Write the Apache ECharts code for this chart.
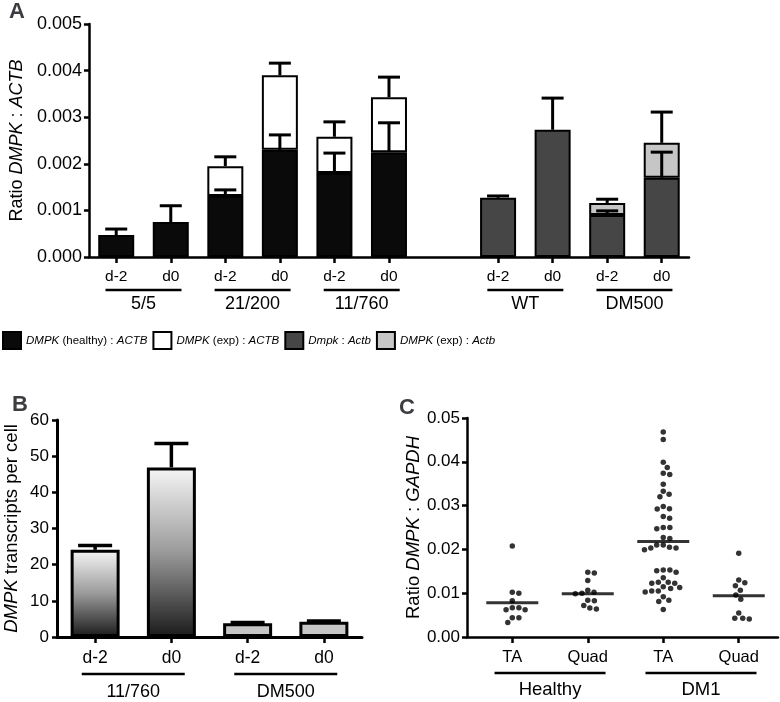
<!DOCTYPE html>
<html><head><meta charset="utf-8">
<script src="https://cdn.jsdelivr.net/npm/echarts@6/dist/echarts.min.js"></script>
<style>html,body{margin:0;padding:0;background:#fff}#c{width:780px;height:702px}</style>
</head><body><div id="c"></div>
<script>
// ---------- Panel A data ----------
const catsA = ['5/5 d-2','5/5 d0','21/200 d-2','21/200 d0','11/760 d-2','11/760 d0','gap','WT d-2','WT d0','DM500 d-2','DM500 d0'];
const groupsA = ['5/5','21/200','11/760','WT','DM500'];
const healthyA    = [0.00047,0.00075,0.00131,0.0023,0.0018,0.00225,'-','-','-','-','-'];
const healthyErrA = [0.00013,0.00035,0.00013,0.00032,0.00043,0.00063,'-','-','-','-','-'];
const expA        = ['-','-',0.00064,0.0016,0.00078,0.00118,'-','-','-','-','-'];
const expErrA     = ['-','-',0.0002,0.00026,0.00032,0.00043,'-','-','-','-','-'];
const mouseA      = ['-','-','-','-','-','-','-',0.00127,0.00273,0.0009,0.0017];
const mouseErrA   = ['-','-','-','-','-','-','-',0.00004,0.00068,0.00009,0.00055];
const expMouseA   = ['-','-','-','-','-','-','-','-','-',0.00026,0.00075];
const expMouseErrA= ['-','-','-','-','-','-','-','-','-',0.00008,0.00066];
const yTicksA = [0,0.001,0.002,0.003,0.004,0.005];
// ---------- Panel B data ----------
const catsB = ['11/760 d-2','11/760 d0','DM500 d-2','DM500 d0'];
const groupsB = ['11/760','DM500'];
const valsB = [24.1,46.9,3.8,4.2];
const errB  = [1.2,6.6,0.2,0.2];
const yTicksB = [0,10,20,30,40,50,60];
// ---------- Panel C data ----------
const catsC = ['Healthy TA','Healthy Quad','DM1 TA','DM1 Quad'];
const groupsC = ['Healthy','DM1'];
const healthyTA = [0.0208,0.0100,0.0102,0.0083,0.0067,0.0062,0.0062,0.0067,0.0044,0.0044,0.0033];
const healthyQuad = [0.0146,0.0148,0.0129,0.0107,0.0102,0.0099,0.0100,0.0084,0.0083,0.0072,0.0066,0.0064];
const dm1TA = [0.0468,0.0451,0.0399,0.0387,0.0371,0.0374,0.0349,0.0333,0.0326,0.0320,0.0293,0.0292,0.0298,
  0.0271,0.0275,0.0250,0.0247,0.0250,0.0227,0.0225,0.0210,0.0205,0.0203,0.0199,0.0203,0.0210,
  0.0151,0.0148,0.0153,0.0153,0.0135,0.0125,0.0123,0.0123,0.0125,0.0113,0.0105,0.0103,0.0105,0.0111,0.0115,
  0.0084,0.0081,0.0092,0.0063];
const dm1Quad = [0.0191,0.0130,0.0124,0.0117,0.0107,0.0096,0.0086,0.0043,0.0041,0.0043,0.0055];
const meansC = [0.0078,0.0099,0.0218,0.0094];
const yTicksC = [0,0.01,0.02,0.03,0.04,0.05];

const FONT = "'Liberation Sans', Arial, Helvetica, sans-serif";

// helpers
function groupCenters(cats, groups){
  return groups.map(g => { const idx = cats.map((c,i)=>c.split(' ')[0]===g?i:-1).filter(i=>i>=0); return idx.reduce((a,b)=>a+b,0)/idx.length; });
}
function errRender(capW, lw){
  return function(params, api){
    const x = api.value(0), y = api.value(1), e = api.value(2);
    const p0 = api.coord([x,y]), p1 = api.coord([x,y+e]);
    return {type:'group', children:[
      {type:'line', shape:{x1:p0[0],y1:p0[1],x2:p1[0],y2:p1[1]}, style:{stroke:'#000',lineWidth:lw}},
      {type:'line', shape:{x1:p1[0]-capW/2,y1:p1[1],x2:p1[0]+capW/2,y2:p1[1]}, style:{stroke:'#000',lineWidth:lw}}
    ]};
  };
}
function swarm(vals, pyPerUnit, d){
  const order = vals.map((v,i)=>i).sort((a,b)=>vals[b]-vals[a]);
  const placed = [], xs = new Array(vals.length);
  for (const i of order){
    const y = vals[i]*pyPerUnit;
    const cands = [0];
    for (const p of placed){ const dy = Math.abs(p.y-y); if (dy<d){ const dx=Math.sqrt(d*d-dy*dy); cands.push(p.x+dx,p.x-dx);} }
    cands.sort((a,b)=>Math.abs(a)-Math.abs(b));
    let ch = 0;
    for (const c of cands){ if (placed.every(p=>(p.x-c)*(p.x-c)+(p.y-y)*(p.y-y) >= d*d-1e-6)){ ch=c; break; } }
    placed.push({x:ch,y}); xs[i]=ch;
  }
  return xs;
}

// Error data for A
const errDataA = [];
for (let i=0;i<catsA.length;i++){
  let base = 0;
  [[healthyA,healthyErrA],[expA,expErrA],[mouseA,mouseErrA],[expMouseA,expMouseErrA]].forEach(([v,e])=>{
    if (v[i] !== '-'){ base += v[i]; errDataA.push([i, base, e[i]]); }
  });
}
const errDataB = valsB.map((v,i)=>[i,v,errB[i]]);

// Panel C layout values
const gridC = {left:467, right:2, top:418, bottom:65};
const xMinC = -0.6, xMaxC = 3.52;
const slotPxC = (780-gridC.left-gridC.right)/(xMaxC-xMinC);
const pyC = (702-gridC.top-gridC.bottom)/0.05;
const groupsDataC = [healthyTA, healthyQuad, dm1TA, dm1Quad];
const scatterC = [];
groupsDataC.forEach((vals,k)=>{ const xs = swarm(vals, pyC, 6.6); vals.forEach((v,i)=>scatterC.push([k + xs[i]/slotPxC, v])); });

function yLine(w){ return {show:true, onZero:false, lineStyle:{color:'#000', width:w}}; }
const axisTickY = {show:true, length:5, lineStyle:{color:'#000', width:2.5}};
function groupLabel(w, l1, l2, fs){
  return {u:{width:w, height:2.5, backgroundColor:'#000', lineHeight:l1}, g:{fontSize:fs, lineHeight:l2, color:'#000', fontFamily:FONT}};
}

const centersA = groupCenters(catsA, groupsA);
const centersB = groupCenters(catsB, groupsB);
const centersC = groupCenters(catsC, groupsC);

const barBorder = {borderColor:'#000', borderWidth:2};
const legendNames = ['DMPK (healthy) : ACTB','DMPK (exp) : ACTB','Dmpk : Actb','DMPK (exp) : Actb'];
const legendRich = {
  'DMPK (healthy) : ACTB':'{i|DMPK} (healthy) : {i|ACTB}',
  'DMPK (exp) : ACTB':'{i|DMPK} (exp) : {i|ACTB}',
  'Dmpk : Actb':'{i|Dmpk} : {i|Actb}',
  'DMPK (exp) : Actb':'{i|DMPK} (exp) : {i|Actb}'
};
const LFS = 11.5;

const option = {
  animation:false,
  textStyle:{fontFamily:FONT, color:'#000'},
  title:[
    {text:'A', left:9, top:1, padding:0, textStyle:{fontSize:22, fontWeight:'bold', fontFamily:FONT}},
    {text:'B', left:12, top:394, padding:0, textStyle:{fontSize:22, fontWeight:'bold', fontFamily:FONT}},
    {text:'C', left:399, top:397, padding:0, textStyle:{fontSize:22, fontWeight:'bold', fontFamily:FONT}}
  ],
  legend:{
    data:legendNames, left:2, top:331, padding:0, itemWidth:18, itemHeight:17, itemGap:5, icon:'rect',
    selectedMode:false,
    formatter:n=>legendRich[n],
    textStyle:{fontFamily:FONT, fontSize:LFS, color:'#000', rich:{i:{fontStyle:'italic', fontFamily:FONT, fontSize:LFS, color:'#000'}}}
  },
  grid:[
    {left:81, right:91, top:24, bottom:445},
    {left:57, right:418, top:420, bottom:65},
    gridC
  ],
  xAxis:[
    {gridIndex:0, type:'category', data:catsA, position:'bottom', boundaryGap:true,
     axisLine:yLine(2.5), axisTick:{show:true, alignWithLabel:true, length:6, interval:(i)=>catsA[i]!=='gap', lineStyle:{color:'#000', width:2.5}},
     axisLabel:{interval:0, margin:12, fontSize:15.5, color:'#000', formatter:v=>v==='gap'?'':v.split(' ')[1]}},
    {gridIndex:0, type:'value', min:-0.5, max:catsA.length-0.5, position:'bottom',
     axisLine:{show:false}, axisTick:{show:false}, splitLine:{show:false},
     axisLabel:{customValues:centersA, margin:28, formatter:v=>'{u|}\n{g|'+groupsA[centersA.indexOf(v)]+'}', rich:groupLabel(76,10,18,18)}},
    {gridIndex:1, type:'category', data:catsB, position:'bottom', boundaryGap:true,
     axisLine:yLine(3), axisTick:{show:true, alignWithLabel:true, length:6, lineStyle:{color:'#000', width:2.5}},
     axisLabel:{interval:0, margin:12, fontSize:17.5, color:'#000', formatter:v=>v.split(' ')[1]}},
    {gridIndex:1, type:'value', min:-0.5, max:catsB.length-0.5, position:'bottom',
     axisLine:{show:false}, axisTick:{show:false}, splitLine:{show:false},
     axisLabel:{customValues:centersB, margin:29, formatter:v=>'{u|}\n{g|'+groupsB[centersB.indexOf(v)]+'}', rich:groupLabel(103,16,20,18)}},
    {gridIndex:2, type:'value', min:xMinC, max:xMaxC, position:'bottom',
     axisLine:yLine(2.5), splitLine:{show:false},
     axisTick:{show:true, customValues:[0,1,2,3], length:6, lineStyle:{color:'#000', width:2.5}},
     axisLabel:{customValues:[0,1,2,3], margin:12, fontSize:16.5, color:'#000', formatter:v=>catsC[Math.round(v)].split(' ')[1]}},
    {gridIndex:2, type:'value', min:xMinC, max:xMaxC, position:'bottom',
     axisLine:{show:false}, axisTick:{show:false}, splitLine:{show:false},
     axisLabel:{customValues:centersC, margin:29, formatter:v=>'{u|}\n{g|'+groupsC[centersC.indexOf(v)]+'}', rich:groupLabel(111,14,20,18.5)}}
  ],
  yAxis:[
    {gridIndex:0, type:'value', min:yTicksA[0], max:yTicksA[yTicksA.length-1], interval:yTicksA[1]-yTicksA[0],
     axisLine:yLine(2.5), axisTick:axisTickY, splitLine:{show:false},
     axisLabel:{fontSize:18, margin:7, color:'#000', formatter:v=>v.toFixed(3)},
     name:'Ratio {i|DMPK} : {i|ACTB}', nameLocation:'middle', nameGap:57,
     nameTextStyle:{fontSize:18, color:'#000', fontFamily:FONT, rich:{i:{fontStyle:'italic', fontSize:18, fontFamily:FONT, color:'#000'}}}},
    {gridIndex:1, type:'value', min:yTicksB[0], max:yTicksB[yTicksB.length-1], interval:yTicksB[1]-yTicksB[0],
     axisLine:yLine(3), axisTick:axisTickY, splitLine:{show:false},
     axisLabel:{fontSize:17, margin:8, color:'#000'},
     name:'{i|DMPK} transcripts per cell', nameLocation:'middle', nameGap:36,
     nameTextStyle:{fontSize:18.5, color:'#000', fontFamily:FONT, rich:{i:{fontStyle:'italic', fontSize:18.5, fontFamily:FONT, color:'#000'}}}},
    {gridIndex:2, type:'value', min:yTicksC[0], max:yTicksC[yTicksC.length-1], interval:yTicksC[1]-yTicksC[0],
     axisLine:yLine(2.5), axisTick:axisTickY, splitLine:{show:false},
     axisLabel:{fontSize:17, margin:7, color:'#000', formatter:v=>v.toFixed(2)},
     name:'Ratio {i|DMPK} : {i|GAPDH}', nameLocation:'middle', nameGap:44,
     nameTextStyle:{fontSize:18.5, color:'#000', fontFamily:FONT, rich:{i:{fontStyle:'italic', fontSize:18.5, fontFamily:FONT, color:'#000'}}}}
  ],
  series:[
    {name:legendNames[0], type:'bar', xAxisIndex:0, yAxisIndex:0, stack:'a', barWidth:36, data:healthyA, itemStyle:Object.assign({color:'#0a0a0a'},barBorder)},
    {name:legendNames[1], type:'bar', xAxisIndex:0, yAxisIndex:0, stack:'a', barWidth:36, data:expA, itemStyle:Object.assign({color:'#ffffff'},barBorder)},
    {name:legendNames[2], type:'bar', xAxisIndex:0, yAxisIndex:0, stack:'a', barWidth:36, data:mouseA, itemStyle:Object.assign({color:'#464646'},barBorder)},
    {name:legendNames[3], type:'bar', xAxisIndex:0, yAxisIndex:0, stack:'a', barWidth:36, data:expMouseA, itemStyle:Object.assign({color:'#c6c6c6'},barBorder)},
    {type:'custom', xAxisIndex:0, yAxisIndex:0, data:errDataA, renderItem:errRender(22,3), z:5, silent:true},
    {type:'bar', xAxisIndex:2, yAxisIndex:1, barWidth:49, data:valsB.map((v,i)=>({value:v, itemStyle:{color: i<2 ?
        new echarts.graphic.LinearGradient(0,0,0,1,[{offset:0,color:'#f6f6f6'},{offset:0.5,color:'#9a9a9a'},{offset:1,color:'#1a1a1a'}]) : '#c6c6c6'}})),
     itemStyle:{borderColor:'#000', borderWidth:3}},
    {type:'custom', xAxisIndex:2, yAxisIndex:1, data:errDataB, renderItem:errRender(34,3.5), z:5, silent:true},
    {type:'scatter', xAxisIndex:4, yAxisIndex:2, data:scatterC, symbolSize:5.5, itemStyle:{color:'#000'}},
    {type:'scatter', xAxisIndex:4, yAxisIndex:2, data:meansC.map((m,k)=>[k,m]), symbol:'rect', symbolSize:[52,3], itemStyle:{color:'#000'}, z:3}
  ]
};
const chart = echarts.init(document.getElementById('c'), null, {renderer:'canvas'});
chart.setOption(option);
</script></body></html>
